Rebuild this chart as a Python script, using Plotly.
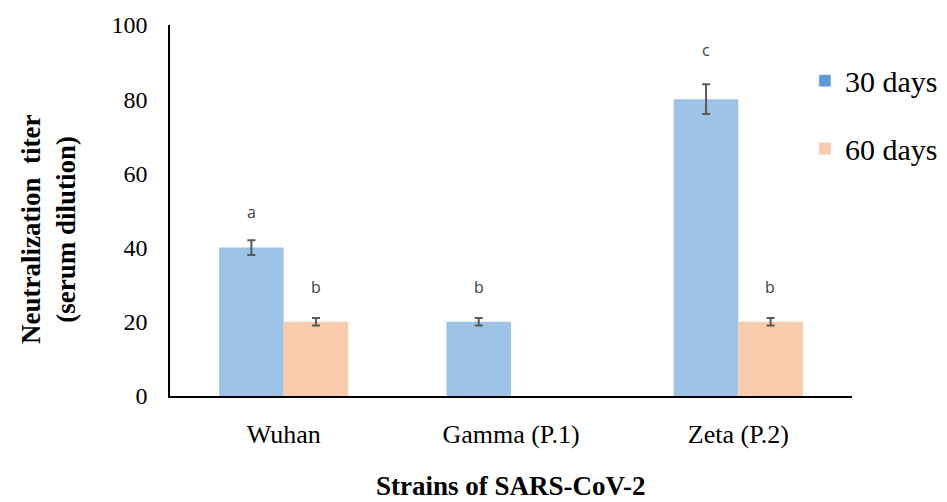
import plotly.graph_objects as go

categories = ["Wuhan", "Gamma (P.1)", "Zeta (P.2)"]
days30 = [40, 20, 80]
err30 = [2, 1, 4]
days60 = [20, None, 20]
err60 = [1, None, 1]
letters30 = ["a", "b", "c"]
letters30_y = [49.5, 29.5, 93.3]
letters60 = ["b", None, "b"]
letters60_y = [29.5, None, 29.5]
yticks = [0, 20, 40, 60, 80, 100]

BLUE_BAR = "#9DC3E6"
BLUE_LEG = "#5B9BD5"
ORANGE = "#F8CBAD"
ERR = "#595959"
SERIF = "Liberation Serif, Times New Roman, serif"
SANS = "Open Sans, Liberation Sans, sans-serif"

fig = go.Figure()
fig.add_trace(go.Bar(
    x=categories, y=days30, name="30 days", marker_color=BLUE_BAR,
    marker_line_width=0, showlegend=False, offsetgroup="a",
    error_y=dict(type="data", array=err30, color=ERR, thickness=2, width=4),
))
fig.add_trace(go.Bar(
    x=categories, y=days60, name="60 days", marker_color=ORANGE,
    marker_line_width=0, showlegend=False, offsetgroup="b",
    error_y=dict(type="data", array=err60, color=ERR, thickness=2, width=4),
))
# legend entries (share offset groups so they take no extra slot)
fig.add_trace(go.Bar(x=[None], y=[None], name="30 days", marker_color=BLUE_LEG,
                     offsetgroup="a", legendgroup="g1", showlegend=True))
fig.add_trace(go.Bar(x=[None], y=[None], name="60 days", marker_color=ORANGE,
                     offsetgroup="b", legendgroup="g2", showlegend=True))

annotations = []
for c, t, yv in zip(categories, letters30, letters30_y):
    if t:
        annotations.append(dict(x=c, y=yv, xref="x", yref="y", text=t, showarrow=False,
                                xshift=-32, font=dict(family=SANS, size=16, color="#404040")))
for c, t, yv in zip(categories, letters60, letters60_y):
    if t:
        annotations.append(dict(x=c, y=yv, xref="x", yref="y", text=t, showarrow=False,
                                xshift=32, font=dict(family=SANS, size=16, color="#404040")))
annotations.append(dict(x=-0.179, y=0.45, xref="paper", yref="paper", textangle=-90,
                        xanchor="center", yanchor="middle",
                        text="<b>Neutralization  titer</b><br><b>(serum dilution)</b>", showarrow=False,
                        font=dict(family=SERIF, size=27, color="black")))
annotations.append(dict(x=0.5, y=-0.243, xref="paper", yref="paper",
                        xanchor="center", yanchor="middle",
                        text="<b>Strains of SARS-CoV-2</b>", showarrow=False,
                        font=dict(family=SERIF, size=27, color="black")))

fig.update_layout(
    width=947, height=502,
    margin=dict(l=162, r=103, t=17, b=114, autoexpand=False),
    paper_bgcolor="white", plot_bgcolor="white",
    barmode="group", bargap=0.432, bargroupgap=0,
    font=dict(family=SERIF, color="black"),
    legend=dict(x=0.931, y=0.92, xanchor="left", yanchor="top",
                font=dict(family=SERIF, size=30, color="black"),
                tracegroupgap=26, itemwidth=30, bgcolor="rgba(0,0,0,0)"),
    annotations=annotations,
    xaxis=dict(range=[-0.5, 2.5], showline=True, linecolor="black", linewidth=2,
               ticks="outside", ticklen=14, tickcolor="white", automargin=False,
               tickfont=dict(family=SERIF, size=26, color="black"), showgrid=False),
    yaxis=dict(range=[0, 100], tickvals=yticks, showline=True, linecolor="black", linewidth=1.5,
               ticks="outside", ticklen=16, tickcolor="white", showgrid=False, zeroline=False,
               automargin=False,
               tickfont=dict(family=SERIF, size=24, color="black")),
)
fig.write_html("out.html")
